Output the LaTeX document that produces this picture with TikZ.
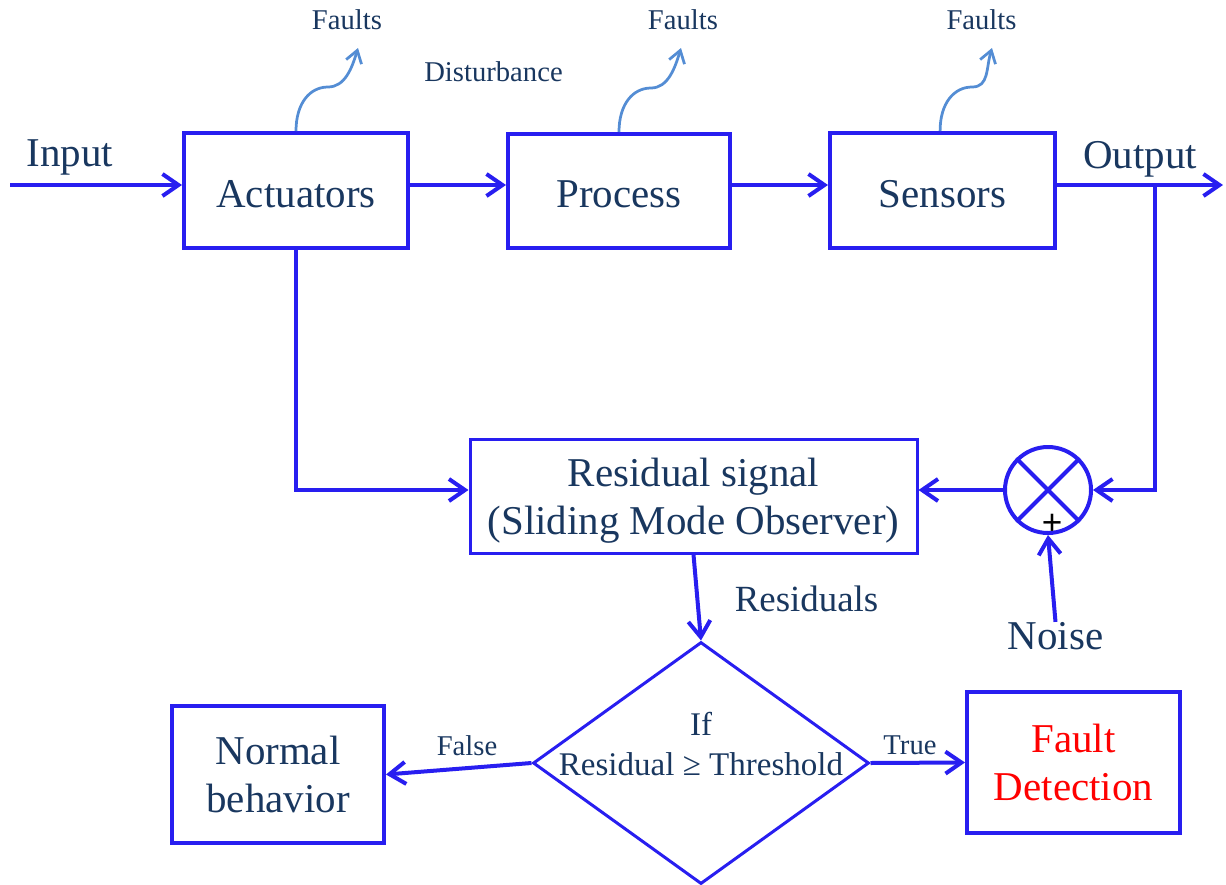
\documentclass[tikz,border=0pt]{standalone}
\usepackage{fontspec}
\setmainfont{Liberation Serif}
\newfontfamily\plusfont{Liberation Sans}
\usepackage{tikz}
\usetikzlibrary{shapes.geometric,arrows.meta}
\definecolor{lineblue}{RGB}{40,30,240}
\definecolor{faultblue}{RGB}{84,141,212}
\definecolor{txtnavy}{RGB}{25,55,95}
\newcommand{\bigtxt}{\fontsize{23.3}{27.5}\selectfont}
\newcommand{\smalltxt}{\fontsize{16.3}{19}\selectfont}

\begin{document}
\begin{tikzpicture}[scale=0.2,
    blk/.style={draw=lineblue, line width=0.08cm, text=txtnavy, font=\bigtxt, align=center},
    lbl/.style={text=txtnavy},
    sig/.style={draw=lineblue, line width=0.08cm, -{Straight Barb[length=3.2mm,width=4.4mm]}},
    fault/.style={draw=faultblue, line width=0.055cm, -{Straight Barb[length=2.4mm,width=3.2mm]}}]
    \tikzstyle{every node}+=[inner sep=0pt]
    \useasboundingbox (0,0) rectangle (122.6,-88.4);
    % top row
    \node [blk, text height=19pt, minimum width=4.48cm, minimum height=2.3cm] (act) at (29.6,-19.05) {Actuators};
    \node [blk, text height=19pt, minimum width=4.44cm, minimum height=2.28cm] (proc) at (61.9,-19.1) {Process};
    \node [blk, text height=19pt, minimum width=4.5cm, minimum height=2.3cm] (sen) at (94.25,-19.05) {Sensors};
    \node [lbl, font=\bigtxt] (inl) at (7.0,-15.7) {Input};
    \node [lbl, font=\bigtxt] (outl) at (114.0,-15.9) {Output};
    \coordinate (in) at (1.0,-18.5);
    \coordinate (out) at (122.3,-18.5);
    \coordinate (br) at (115.5,-18.5);
    \draw [sig] (in) -- (in -| act.west);
    \draw [sig] (act.east |- in) -- (proc.west |- in);
    \draw [sig] (proc.east |- in) -- (sen.west |- in);
    \draw [sig] (sen.east |- out) -- (out);
    % faults
    \node [lbl, font=\smalltxt] (f1) at (34.7,-2.0) {Faults};
    \node [lbl, font=\smalltxt] (f2) at (68.3,-2.0) {Faults};
    \node [lbl, font=\smalltxt] (f3) at (98.15,-2.0) {Faults};
    \node [lbl, font=\smalltxt] (dist) at (49.35,-7.2) {Disturbance};
    \coordinate (t1) at (35.8,-4.8);
    \coordinate (t2) at (68.1,-4.8);
    \coordinate (t3) at (99.2,-4.8);
    \draw [fault] (act.north) .. controls +(0,2.8) and +(-1.8,0) .. ++(3.2,4.4) .. controls +(1.7,0) and +(-0.6,-2.0) .. (t1);
    \draw [fault] (proc.north) .. controls +(0,2.8) and +(-1.8,0) .. ++(3.2,4.4) .. controls +(1.7,0) and +(-0.6,-2.0) .. (t2);
    \draw [fault] ([xshift=-2.4mm]sen.north) .. controls +(0,2.8) and +(-1.8,0) .. ++(3.2,4.4) .. controls +(1.7,0) and +(-0.6,-2.0) .. (t3);
    % observer and summing point
    \node [blk, line width=0.06cm, text depth=0pt, minimum width=8.94cm, minimum height=2.28cm] (res) at (69.35,-49.6) {Residual signal\\(Sliding Mode Observer)};
    \node [draw=lineblue, line width=0.08cm, circle, minimum size=1.72cm] (sum) at (104.8,-49.0) {};
    \draw [lineblue, line width=0.08cm] (sum.north west) -- (sum.south east);
    \draw [lineblue, line width=0.08cm] (sum.north east) -- (sum.south west);
    \node [font=\plusfont\fontsize{20}{20}\selectfont] (plus) at (105.2,-52.4) {+};
    \node [lbl, font=\bigtxt] (noise) at (105.55,-63.6) {Noise};
    \draw [sig] (br) |- (sum.east);
    \draw [sig] (sum.west) -- (res.east |- sum.west);
    \draw [sig] (act.south) |- (res.west |- sum.west);
    \draw [sig] (noise.north) -- (sum.south);
    % decision
    \node [draw=lineblue, line width=0.06cm, diamond, minimum width=6.72cm, minimum height=4.84cm] (dia) at (70.1,-76.3) {};
    \node [lbl, font=\fontsize{18.8}{23.3}\selectfont, align=center] (cond) at (70.1,-74.4) {If\\Residual ≥ Threshold};
    \node [lbl, font=\fontsize{21}{24}\selectfont] (resl) at (80.65,-59.85) {Residuals};
    \draw [sig] (res.south) -- (dia.north);
    \node [blk, minimum width=4.24cm, minimum height=2.74cm] (norm) at (27.8,-77.45) {Normal\\behavior};
    \node [blk, text=red, minimum width=4.26cm, minimum height=2.82cm] (fd) at (107.35,-76.25) {Fault\\Detection};
    \node [lbl, font=\smalltxt] (fl) at (46.7,-74.55) {False};
    \node [lbl, font=\smalltxt] (tr) at (91.0,-74.5) {True};
    \draw [sig] (dia.west) -- (norm.east);
    \draw [sig] (dia.east) -- (fd.west);
\end{tikzpicture}
\end{document}
